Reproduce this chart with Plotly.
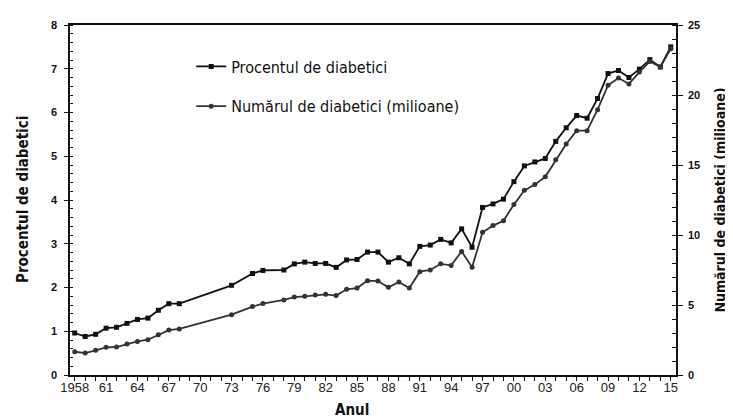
import plotly.graph_objects as go

years = [1958, 1959, 1960, 1961, 1962, 1963, 1964, 1965, 1966, 1967, 1968,
         1973, 1975, 1976,
         1978, 1979, 1980, 1981, 1982, 1983, 1984, 1985, 1986, 1987, 1988,
         1989, 1990, 1991, 1992, 1993, 1994, 1995, 1996, 1997, 1998, 1999,
         2000, 2001, 2002, 2003, 2004, 2005, 2006, 2007, 2008, 2009, 2010,
         2011, 2012, 2013, 2014, 2015]

percent = [0.96, 0.88, 0.93, 1.07, 1.09, 1.18, 1.27, 1.30, 1.48, 1.63, 1.63,
           2.05, 2.32, 2.39,
           2.40, 2.54, 2.58, 2.55, 2.55, 2.46, 2.63, 2.64, 2.81, 2.81, 2.58,
           2.68, 2.54, 2.94, 2.97, 3.10, 3.02, 3.34, 2.92, 3.83, 3.91, 4.02,
           4.42, 4.78, 4.87, 4.95, 5.34, 5.65, 5.93, 5.87, 6.32, 6.89, 6.96,
           6.80, 6.99, 7.21, 7.04, 7.50]

numbers = [1.66, 1.57, 1.76, 1.98, 2.00, 2.21, 2.40, 2.52, 2.88, 3.21, 3.29,
           4.31, 4.89, 5.10,
           5.36, 5.57, 5.62, 5.71, 5.76, 5.67, 6.12, 6.21, 6.74, 6.71, 6.26,
           6.64, 6.21, 7.38, 7.50, 7.94, 7.83, 8.83, 7.69, 10.19, 10.67, 11.02,
           12.17, 13.19, 13.60, 14.16, 15.38, 16.50, 17.45, 17.45, 18.95, 20.69, 21.21,
           20.79, 21.64, 22.40, 22.00, 23.30]

tick_years = list(range(1958, 2016))
tick_labels = ["1958" if y == 1958 else (f"{y % 100:02d}" if (y - 1958) % 3 == 0 else "")
               for y in tick_years]

name_pct = "Procentul de diabetici"
name_num = "Numărul de diabetici (milioane)"
title_x = "Anul"
title_yl = "Procentul de diabetici"
title_yr = "Numărul de diabetici (milioane)"

NARROW = "DejaVu Sans Condensed, Liberation Sans Narrow, Arial Narrow, Liberation Sans, sans-serif"

fig = go.Figure()
fig.add_trace(go.Scatter(
    x=years, y=percent, name=name_pct, mode="lines+markers",
    line=dict(color="#111111", width=1.8),
    marker=dict(symbol="square", size=5, color="#111111"),
    legendgroup="a", yaxis="y"))
fig.add_trace(go.Scatter(
    x=years, y=numbers, name=name_num, mode="lines+markers",
    line=dict(color="#333333", width=1.8),
    marker=dict(symbol="circle", size=5, color="#333333"),
    legendgroup="b", yaxis="y2"))

xr = [1957.55, 2015.5]
fig.update_layout(
    width=733, height=418,
    margin=dict(l=62, r=65, t=17, b=51, autoexpand=False),
    paper_bgcolor="white", plot_bgcolor="white",
    font=dict(family="Liberation Sans, Arial, sans-serif", color="#111111"),
    showlegend=True,
    legend=dict(x=0.200, y=0.93, xanchor="left", yanchor="top",
                bgcolor="rgba(0,0,0,0)", traceorder="grouped", tracegroupgap=16,
                font=dict(family=NARROW, size=16, color="#111111"),
                itemwidth=30),
    xaxis=dict(range=xr, tickmode="array", tickvals=tick_years, ticktext=tick_labels,
               ticks="outside", ticklen=4, tickwidth=1, tickcolor="#111111",
               ticklabelstandoff=-4,
               showline=True, linecolor="#111111", linewidth=1.5, mirror=True,
               showgrid=False, zeroline=False,
               tickfont=dict(size=13, color="#222222")),
    xaxis2=dict(range=xr, overlaying="x", anchor="y", tickmode="array",
                tickvals=tick_years, ticktext=["" for _ in tick_years],
                ticks="inside", ticklen=4, tickwidth=1, tickcolor="#111111",
                showline=False, showgrid=False, zeroline=False, showticklabels=False),
    yaxis=dict(range=[0, 8], dtick=1, ticks="outside", ticklen=4, tickcolor="#111111",
               ticklabelstandoff=5,
               minor=dict(dtick=0.2, ticks="inside", ticklen=3, tickcolor="#111111"),
               showline=True, linecolor="#111111", linewidth=1.5,
               showgrid=False, zeroline=False,
               tickfont=dict(size=11, weight="bold", color="#111111")),
    yaxis2=dict(range=[0, 25], dtick=5, overlaying="y", side="right", anchor="x",
                ticks="outside", ticklen=5, tickcolor="#111111",
                ticklabelstandoff=3,
                minor=dict(dtick=1, ticks="inside", ticklen=4, tickcolor="#111111"),
                showline=True, linecolor="#111111", linewidth=1.5,
                showgrid=False, zeroline=False, automargin=False,
                title=dict(text=title_yr, standoff=16,
                           font=dict(family=NARROW, size=14, weight="bold", color="#111111")),
                tickfont=dict(size=11, weight="bold", color="#111111")),
    annotations=[
        dict(text=title_x, xref="paper", yref="paper", x=0.465, y=0, yshift=-35,
             showarrow=False, yanchor="middle",
             font=dict(family=NARROW, size=15, weight="bold", color="#111111")),
        dict(text=title_yl, xref="paper", yref="paper", x=0, xshift=-47, y=0.5,
             showarrow=False, textangle=-90, xanchor="center",
             font=dict(family=NARROW, size=15, weight="bold", color="#111111")),
    ],
)

fig.write_html("out.html")
